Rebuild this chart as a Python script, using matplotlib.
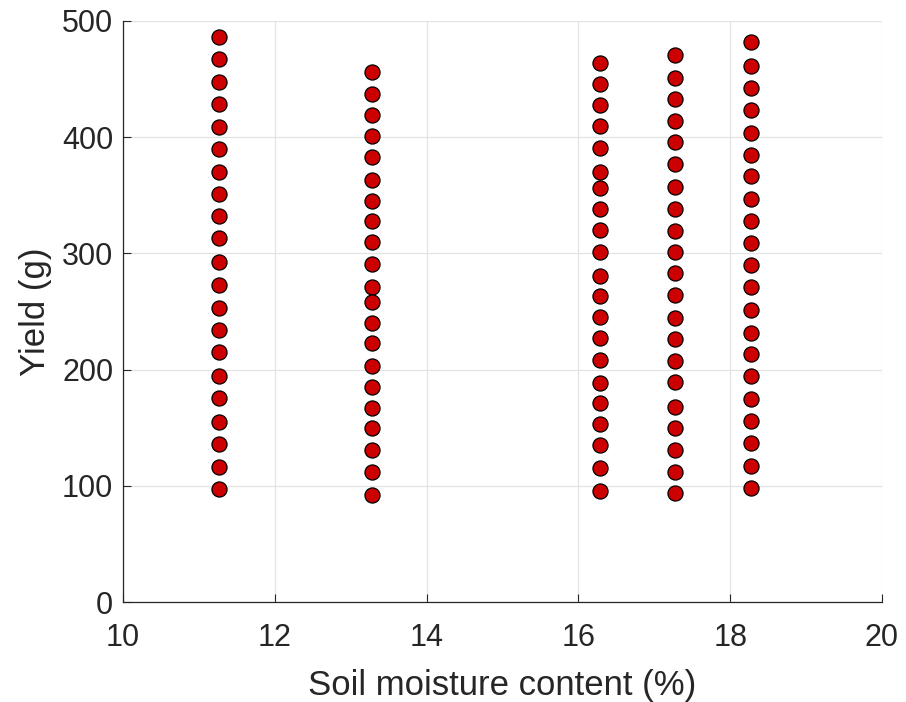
import matplotlib
matplotlib.use("Agg")
import matplotlib.pyplot as plt

plt.rcParams['font.family'] = ['Liberation Sans', 'DejaVu Sans']

# Soil moisture levels (%) and the yields (g) measured at each
moisture_levels = [11.27, 13.28, 16.28, 17.27, 18.27]

yield_11 = [486.5, 467.3, 447.5, 428.3, 409.0, 389.8, 370.3, 351.4, 331.9, 313.0,
            292.5, 272.5, 253.3, 234.1, 214.9, 194.8, 175.3, 155.2, 136.0, 116.4, 97.5]
yield_13 = [455.9, 436.9, 419.1, 401.3, 383.0, 362.9, 345.1, 327.6, 310.1, 291.0,
            271.3, 258.2, 240.4, 222.9, 203.1, 184.8, 167.2, 150.0, 131.1, 112.1, 92.3]
yield_16 = [463.6, 446.1, 428.0, 409.6, 390.7, 370.3, 356.3, 338.2, 320.1, 300.9,
            280.8, 263.6, 245.5, 227.5, 208.3, 188.2, 171.0, 153.2, 135.1, 115.6, 95.8]
yield_17 = [471.0, 450.9, 432.9, 414.2, 395.6, 377.2, 357.1, 338.5, 319.5, 300.9,
            282.9, 263.9, 244.4, 226.1, 207.7, 189.3, 168.1, 150.0, 131.1, 112.1, 93.5]
yield_18 = [481.7, 461.0, 442.1, 423.2, 403.6, 384.7, 366.4, 347.1, 327.6, 308.7,
            290.3, 270.8, 251.6, 231.8, 213.2, 194.2, 174.7, 155.8, 137.1, 117.0, 97.8]

yields = [yield_11, yield_13, yield_16, yield_17, yield_18]

x_ticks = [10, 12, 14, 16, 18, 20]
y_ticks = [0, 100, 200, 300, 400, 500]

fig = plt.figure(figsize=(9.06, 7.02), dpi=100)
ax = fig.add_axes([123 / 906, 100 / 702, 759 / 906, 581 / 702])

for m, ys in zip(moisture_levels, yields):
    ax.scatter([m] * len(ys), ys, s=118, facecolor='#cc0000', edgecolor='black',
               linewidth=0.9, zorder=3, clip_on=False)

ax.set_xlim(10, 20)
ax.set_ylim(0, 500)
ax.set_xticks(x_ticks)
ax.set_yticks(y_ticks)

ax.grid(True, color='#e3e3e3', linewidth=0.9)
ax.set_axisbelow(True)

for side in ('top', 'right'):
    ax.spines[side].set_visible(False)
for side in ('left', 'bottom'):
    ax.spines[side].set_color('#262626')
    ax.spines[side].set_linewidth(0.9)

ax.tick_params(direction='in', length=6, width=0.8, color='#262626',
               labelcolor='#262626', labelsize=22)
ax.tick_params(axis='y', pad=7)
ax.tick_params(axis='x', pad=15)

ax.set_xlabel('Soil moisture content (%)', fontsize=25, color='#262626', labelpad=12)
ax.set_ylabel('Yield (g)', fontsize=25, color='#262626', labelpad=7)

fig.savefig('out.png', dpi=100)
